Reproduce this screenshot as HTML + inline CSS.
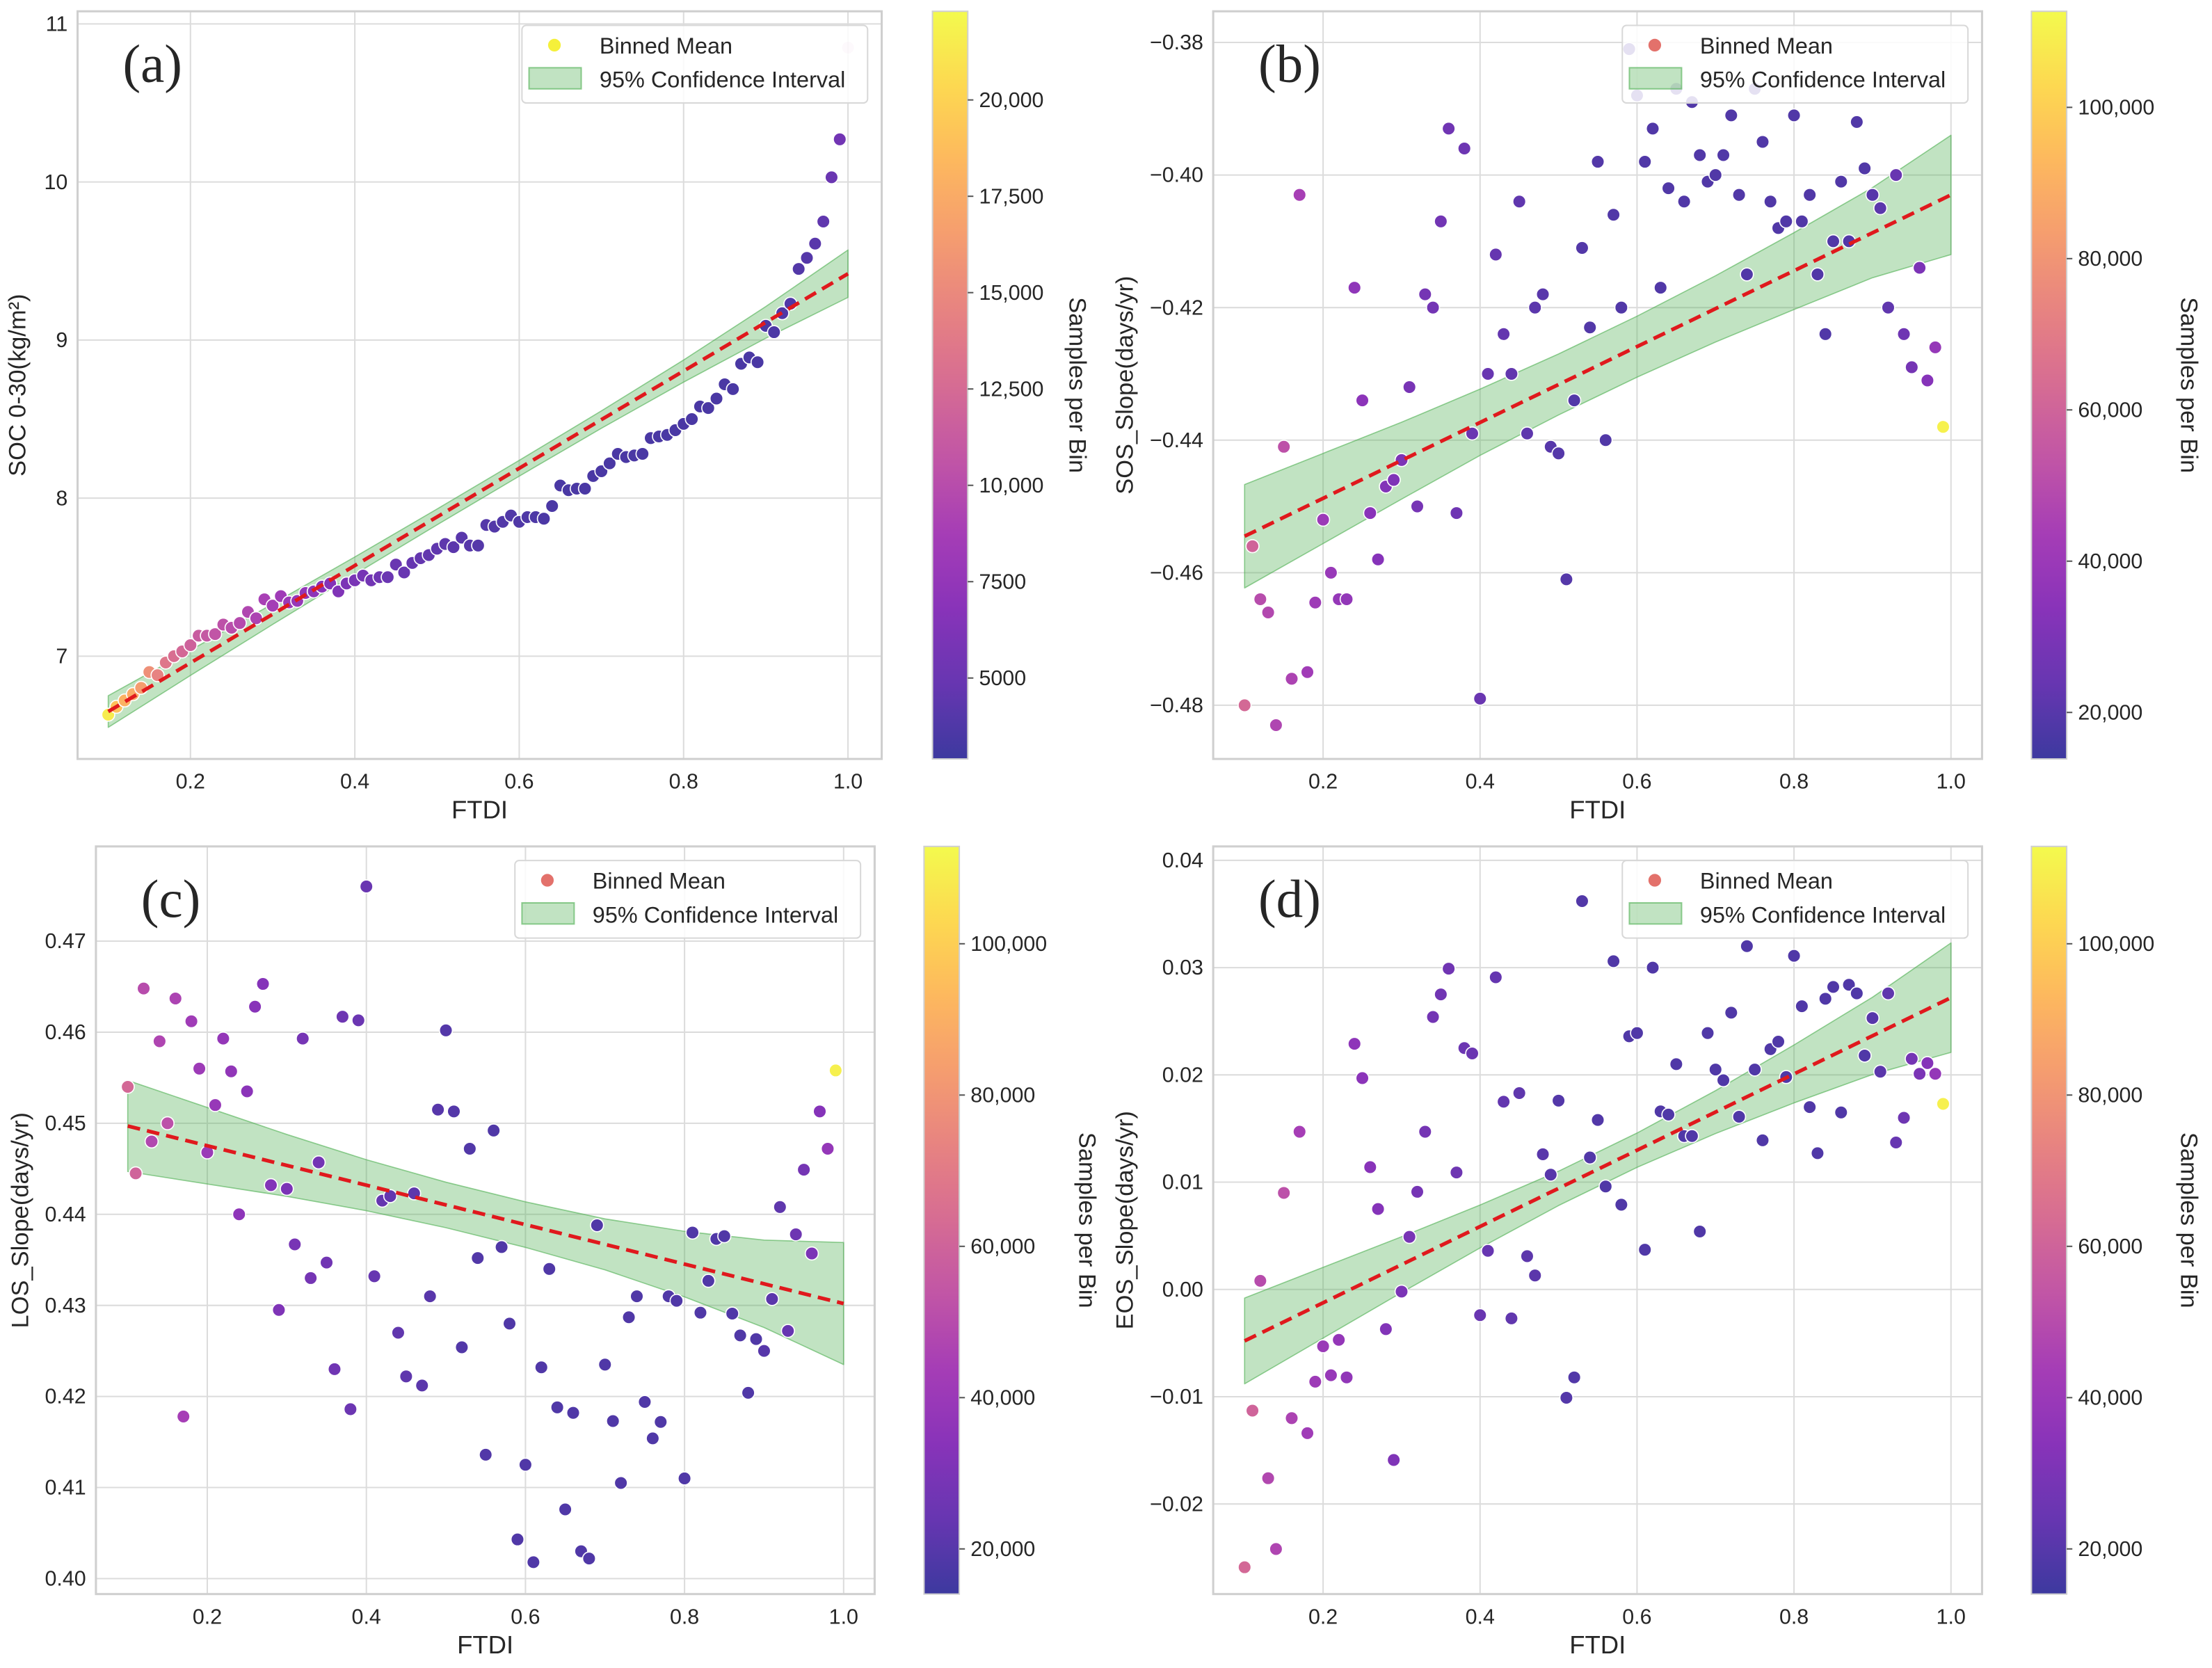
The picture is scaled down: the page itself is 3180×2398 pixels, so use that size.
<!DOCTYPE html>
<html><head><meta charset="utf-8"><style>
html,body{margin:0;padding:0;background:#fff;}
svg{display:block;}
text{font-family:"Liberation Sans",Arial,sans-serif;fill:#262626;}
</style></head>
<body>
<svg id="fig" xmlns="http://www.w3.org/2000/svg" width="3180" height="2398" viewBox="0 0 1568 1182.4"></svg>
<script>
// ---- shared bins (FTDI) ----
const BINS = [0.10,0.11,0.12,0.13,0.14,0.15,0.16,0.17,0.18,0.19,0.20,0.21,0.22,0.23,0.24,0.25,0.26,0.27,0.28,0.29,0.30,0.31,0.32,0.33,0.34,0.35,0.36,0.37,0.38,0.39,0.40,0.41,0.42,0.43,0.44,0.45,0.46,0.47,0.48,0.49,0.50,0.51,0.52,0.53,0.54,0.55,0.56,0.57,0.58,0.59,0.60,0.61,0.62,0.63,0.64,0.65,0.66,0.67,0.68,0.69,0.70,0.71,0.72,0.73,0.74,0.75,0.76,0.77,0.78,0.79,0.80,0.81,0.82,0.83,0.84,0.85,0.86,0.87,0.88,0.89,0.90,0.91,0.92,0.93,0.94,0.95,0.96,0.97,0.98,0.99];
const BINS_A = BINS.concat([1.00]);
// ---- panel (a) SOC ----
const socValues = [6.63,6.68,6.72,6.76,6.80,6.90,6.88,6.96,7.00,7.03,7.07,7.13,7.13,7.14,7.20,7.18,7.21,7.28,7.24,7.36,7.32,7.38,7.34,7.35,7.40,7.41,7.44,7.46,7.41,7.46,7.48,7.51,7.48,7.50,7.50,7.58,7.53,7.59,7.62,7.64,7.68,7.71,7.69,7.75,7.70,7.70,7.83,7.82,7.85,7.89,7.85,7.88,7.88,7.87,7.95,8.08,8.05,8.06,8.06,8.14,8.17,8.22,8.28,8.26,8.27,8.28,8.38,8.39,8.40,8.43,8.47,8.50,8.58,8.57,8.63,8.72,8.69,8.85,8.89,8.86,9.09,9.05,9.17,9.23,9.45,9.52,9.61,9.75,10.03,10.27,10.85];
const socCounts = [21500,19000,18000,17500,16500,15500,14500,13500,12800,12300,11800,11300,11000,10700,10400,10100,9800,9500,9200,8900,8600,8300,8000,7700,7400,7100,6800,6500,6300,6100,5900,5700,5500,5300,5100,5000,4900,4800,4700,4600,4500,4400,4300,4200,4100,4000,3950,3900,3850,3800,3750,3700,3650,3600,3550,3500,3500,3500,3500,3500,3500,3500,3500,3500,3500,3500,3500,3500,3500,3500,3500,3500,3500,3500,3500,3500,3500,3500,3500,3500,3500,3600,3700,3800,3900,4000,4200,4500,5000,5500,11000];
const socFit = [6.65, 9.42];
const ciX = [0.1,0.2,0.3,0.4,0.5,0.6,0.7,0.8,0.9,1.0];
const socCiLo = [6.55,6.878,7.201,7.518,7.831,8.139,8.442,8.734,9.012,9.27];
const socCiHi = [6.75,7.038,7.331,7.628,7.931,8.239,8.552,8.874,9.212,9.57];
// ---- panel (b) SOS ----
const sosValues = [-0.480,-0.456,-0.464,-0.466,-0.483,-0.441,-0.476,-0.403,-0.475,-0.4645,-0.452,-0.460,-0.464,-0.464,-0.417,-0.434,-0.451,-0.458,-0.447,-0.446,-0.443,-0.432,-0.450,-0.418,-0.420,-0.407,-0.393,-0.451,-0.396,-0.439,-0.479,-0.430,-0.412,-0.424,-0.430,-0.404,-0.439,-0.420,-0.418,-0.441,-0.442,-0.461,-0.434,-0.411,-0.423,-0.398,-0.440,-0.406,-0.420,-0.381,-0.388,-0.398,-0.393,-0.417,-0.402,-0.387,-0.404,-0.389,-0.397,-0.401,-0.400,-0.397,-0.391,-0.403,-0.415,-0.387,-0.395,-0.404,-0.408,-0.407,-0.391,-0.407,-0.403,-0.415,-0.424,-0.410,-0.401,-0.410,-0.392,-0.399,-0.403,-0.405,-0.420,-0.400,-0.424,-0.429,-0.414,-0.431,-0.426,-0.438];
const sosFit = [-0.4545, -0.403];
const sosCiLo = [-0.4623,-0.4556,-0.4489,-0.4423,-0.4362,-0.4305,-0.4252,-0.4203,-0.4155,-0.4120];
const sosCiHi = [-0.4467,-0.4420,-0.4373,-0.4323,-0.4270,-0.4213,-0.4152,-0.4087,-0.4019,-0.3940];
// ---- panel (c) LOS ----
const losValues = [0.454,0.4445,0.4648,0.448,0.459,0.450,0.4637,0.4178,0.4612,0.456,0.4468,0.452,0.4593,0.4557,0.440,0.4535,0.4628,0.4653,0.4432,0.4295,0.4428,0.4367,0.4593,0.433,0.4457,0.4347,0.423,0.4617,0.4186,0.4613,0.476,0.4332,0.4415,0.442,0.427,0.4222,0.4423,0.4212,0.431,0.4515,0.4602,0.4513,0.4254,0.4472,0.4352,0.4136,0.4492,0.4364,0.428,0.4043,0.4125,0.4018,0.4232,0.434,0.4188,0.4076,0.4182,0.403,0.4022,0.4388,0.4235,0.4173,0.4105,0.4287,0.431,0.4194,0.4154,0.4172,0.431,0.4305,0.411,0.438,0.4292,0.4327,0.4373,0.4376,0.4291,0.4267,0.4204,0.4263,0.425,0.4307,0.4408,0.4272,0.4378,0.4449,0.4357,0.4513,0.4472,0.4558];
const losFit = [0.4497, 0.4302];
const losCiLo = [0.4447,0.44333,0.44197,0.4404,0.43853,0.43637,0.4339,0.43093,0.42757,0.4235];
const losCiHi = [0.4547,0.45173,0.44877,0.4460,0.44353,0.44137,0.4395,0.43813,0.43717,0.4369];
// ---- panel (d) EOS ----
const eosValues = [-0.0259,-0.0113,0.0008,-0.0176,-0.0242,0.009,-0.012,0.0147,-0.0134,-0.0086,-0.0053,-0.008,-0.0047,-0.0082,0.0229,0.0197,0.0114,0.0075,-0.0037,-0.0159,-0.0002,0.0049,0.0091,0.0147,0.0254,0.0275,0.0299,0.0109,0.0225,0.022,-0.0024,0.0036,0.0291,0.0175,-0.0027,0.0183,0.0031,0.0013,0.0126,0.0107,0.0176,-0.0101,-0.0082,0.0362,0.0123,0.0158,0.0096,0.0306,0.0079,0.0236,0.0239,0.0037,0.030,0.0166,0.0163,0.021,0.0143,0.0143,0.0054,0.0239,0.0205,0.0195,0.0258,0.0161,0.032,0.0205,0.0139,0.0224,0.0231,0.0198,0.0311,0.0264,0.017,0.0127,0.0271,0.0282,0.0165,0.0284,0.0276,0.0218,0.0253,0.0203,0.0276,0.0137,0.016,0.0215,0.0201,0.0211,0.0201,0.0173];
const eosFit = [-0.0048, 0.0272];
const eosCiLo = [-0.0088,-0.00454,-0.00029,0.00387,0.00782,0.01138,0.01453,0.01739,0.02004,0.0221];
const eosCiHi = [-0.0008,0.00206,0.00491,0.00787,0.01102,0.01458,0.01853,0.02279,0.02724,0.0323];
// ---- shared counts for b/c/d ----
const phenoCounts = [62000,60000,50000,48000,47000,52000,46000,44000,42000,41000,40000,39000,38000,37000,36000,35000,34000,33000,32000,31000,30000,29000,28500,28000,27500,27000,26500,26000,25500,25000,24500,24000,23500,23000,22500,22000,21500,21000,20500,20000,19500,19500,19000,19000,19000,19000,18500,18500,18500,18500,18500,18500,18500,18500,18500,18500,18500,18500,18500,18500,18500,18500,18500,18500,18500,18500,18500,18500,18500,18500,18500,18500,18500,18500,18500,18500,18500,18500,18500,18500,20000,21000,22000,24000,26000,28000,30000,33000,38000,110000];
// ---- tick labels ----
const xTicks = [0.2,0.4,0.6,0.8,1.0];
const socTicks = [7,8,9,10,11];
const sosTicks = [-0.38,-0.40,-0.42,-0.44,-0.46,-0.48];
const losTicks = [0.40,0.41,0.42,0.43,0.44,0.45,0.46,0.47];
const eosTicks = [-0.02,-0.01,0.00,0.01,0.02,0.03,0.04];
const cbTicksA = [5000,7500,10000,12500,15000,17500,20000];
const cbTicksB = [20000,40000,60000,80000,100000];

const NS = "http://www.w3.org/2000/svg";
const svg = document.getElementById('fig');
function mk(tag, attrs, parent){const e=document.createElementNS(NS,tag);for(const k in attrs)e.setAttribute(k,attrs[k]);(parent||svg).appendChild(e);return e;}
const PL=[[0,[13,8,135]],[0.1,[65,4,157]],[0.2,[106,0,168]],[0.3,[143,13,164]],[0.4,[177,42,144]],[0.5,[204,71,120]],[0.6,[225,100,98]],[0.7,[242,132,75]],[0.8,[252,166,54]],[0.9,[252,206,37]],[1,[240,249,33]]];
function plasma(t){t=Math.max(0,Math.min(1,t));for(let i=0;i<PL.length-1;i++){if(t<=PL[i+1][0]){const f=(t-PL[i][0])/(PL[i+1][0]-PL[i][0]);const a=PL[i][1],b=PL[i+1][1];
const c=a.map((v,j)=>Math.round((v+(b[j]-v)*f)*0.8+255*0.2));return `rgb(${c[0]},${c[1]},${c[2]})`;}}return 'rgb(243,250,78)';}
function fmt(v,d){return v<0?'\u2212'+Math.abs(v).toFixed(d):v.toFixed(d);}
function comma(v){return v>=10000?v.toLocaleString('en-US'):String(v);}

function panel(o){
  const g=mk('g',{});
  
  
  const X=v=>o.L+(v-o.xd[0])/(o.xd[1]-o.xd[0])*(o.R-o.L);
  const Y=v=>o.B-(v-o.yd[0])/(o.yd[1]-o.yd[0])*(o.B-o.T);
  const clip='clip_'+o.name; const cp=mk('clipPath',{id:clip},g); mk('rect',{x:o.L,y:o.T,width:o.R-o.L,height:o.B-o.T},cp);
  xTicks.forEach(t=>{const l=mk('line',{x1:X(t),x2:X(t),y1:o.T,y2:o.B,stroke:'#dcdcdc','stroke-width':1},g);
    const tx=mk('text',{x:X(t),y:o.B+21,'text-anchor':'middle','font-size':15},g);tx.textContent=t.toFixed(1);});
  o.yt.forEach(t=>{const l=mk('line',{x1:o.L,x2:o.R,y1:Y(t),y2:Y(t),stroke:'#dcdcdc','stroke-width':1},g);
    const tx=mk('text',{x:o.L-7,y:Y(t)+5,'text-anchor':'end','font-size':15},g);tx.textContent=o.yf(t);});
  const frame=mk('rect',{x:o.L,y:o.T,width:o.R-o.L,height:o.B-o.T,fill:'none',stroke:'#cfcfcf','stroke-width':1.5},g);
  
  const inner=mk('g',{'clip-path':`url(#${clip})`},g);
  let d='';ciX.forEach((x,i)=>{d+=(i?'L':'M')+X(x)+','+Y(o.ciHi[i]);});
  for(let i=ciX.length-1;i>=0;i--)d+='L'+X(ciX[i])+','+Y(o.ciLo[i]);
  const band=mk('path',{d:d+'Z',fill:'rgba(76,175,80,0.35)',stroke:'rgba(76,175,80,0.6)','stroke-width':0.8,'stroke-linejoin':'round'},inner);
  
  o.xs.forEach((x,i)=>{const c=o.counts[i];const p=mk('circle',{cx:X(x),cy:Y(o.ys[i]),r:4.6,fill:plasma((c-o.cd[0])/(o.cd[1]-o.cd[0])),stroke:'#fff','stroke-width':0.8},inner);
    if(o.fadeLast&&i===o.xs.length-1)p.setAttribute('opacity','0.25');
    });
  const fl=mk('line',{x1:X(0.1),y1:Y(o.fit[0]),x2:X(1.0),y2:Y(o.fit[1]),stroke:'#e0191d','stroke-width':2.6,'stroke-dasharray':'9,5'},inner);
  
  const xl=mk('text',{x:(o.L+o.R)/2,y:o.B+42,'text-anchor':'middle','font-size':18},g);xl.textContent='FTDI';
  const yl=mk('text',{x:0,y:0,'text-anchor':'middle','font-size':17,transform:`translate(${o.ylx},${(o.T+o.B)/2}) rotate(-90)`},g);yl.textContent=o.ylab;
  const pl=mk('text',{x:o.L+32,y:o.T+50,'font-size':38,style:'font-family:"Liberation Serif",serif'},g);pl.textContent=o.tag;
  const lg=mk('g',{},g);
  const lx=o.R-255,ly=o.T+10;
  mk('rect',{x:lx,y:ly,width:245,height:55,rx:3,fill:'rgba(255,255,255,0.85)',stroke:'#d8d8d8'},lg);
  const lm=mk('circle',{cx:lx+23,cy:ly+14,r:4.5,fill:o.legColor},lg);
  const t1=mk('text',{x:lx+55,y:ly+20,'font-size':16},lg);t1.textContent='Binned Mean';
  mk('rect',{x:lx+5,y:ly+30,width:37,height:15,fill:'rgba(76,175,80,0.35)',stroke:'rgba(76,175,80,0.6)'},lg);
  const t2=mk('text',{x:lx+55,y:ly+44,'font-size':16},lg);t2.textContent='95% Confidence Interval';
  const cb=mk('g',{},g);
  const gid='grad_'+o.name;const lgd=mk('linearGradient',{id:gid,x1:0,y1:1,x2:0,y2:0},cb);
  for(let i=0;i<=20;i++)mk('stop',{offset:i/20,'stop-color':plasma(i/20)},lgd);
  mk('rect',{x:o.cbx,y:o.T,width:25,height:o.B-o.T,fill:`url(#${gid})`,stroke:'#d0d0d0','stroke-width':1},cb);
  const CY=v=>o.B-(v-o.cd[0])/(o.cd[1]-o.cd[0])*(o.B-o.T);
  o.cbt.forEach(t=>{mk('line',{x1:o.cbx+25,x2:o.cbx+29,y1:CY(t),y2:CY(t),stroke:'#555'},cb);
    const tx=mk('text',{x:o.cbx+33,y:CY(t)+5,'font-size':15},cb);tx.textContent=comma(t);});
  const cl=mk('text',{x:0,y:0,'text-anchor':'middle','font-size':17,transform:`translate(${o.cblx},${(o.T+o.B)/2}) rotate(90)`},cb);cl.textContent='Samples per Bin';
}
panel({name:'panel-a-soc',tag:'(a)',L:55,R:625,T:8,B:538,xd:[0.0627,1.041],yd:[6.35,11.08],yt:socTicks,yf:v=>String(v),xs:BINS_A,ys:socValues,counts:socCounts,cd:[2900,22300],fit:socFit,ciLo:socCiLo,ciHi:socCiHi,ylab:'SOC 0-30(kg/m²)',ylx:18,legColor:'#f5f03a',cbx:661,cbt:cbTicksA,cblx:758,fadeLast:true});
panel({name:'panel-b-sos',tag:'(b)',L:860,R:1405,T:8,B:538,xd:[0.06,1.0396],yd:[-0.4881,-0.3753],yt:sosTicks,yf:v=>fmt(v,2),xs:BINS,ys:sosValues,counts:phenoCounts,cd:[13850,112700],fit:sosFit,ciLo:sosCiLo,ciHi:sosCiHi,ylab:'SOS_Slope(days/yr)',ylx:803,legColor:'#e3716b',cbx:1440,cbt:cbTicksB,cblx:1546});
panel({name:'panel-c-los',tag:'(c)',L:68,R:620,T:600,B:1130,xd:[0.06,1.039],yd:[0.3983,0.4804],yt:losTicks,yf:v=>v.toFixed(2),xs:BINS,ys:losValues,counts:phenoCounts,cd:[14030,112870],fit:losFit,ciLo:losCiLo,ciHi:losCiHi,ylab:'LOS_Slope(days/yr)',ylx:20,legColor:'#e3716b',cbx:655,cbt:cbTicksB,cblx:765});
panel({name:'panel-d-eos',tag:'(d)',L:860,R:1405,T:600,B:1130,xd:[0.06,1.0396],yd:[-0.0284,0.0413],yt:eosTicks,yf:v=>fmt(v,2),xs:BINS,ys:eosValues,counts:phenoCounts,cd:[14030,112870],fit:eosFit,ciLo:eosCiLo,ciHi:eosCiHi,ylab:'EOS_Slope(days/yr)',ylx:803,legColor:'#e3716b',cbx:1440,cbt:cbTicksB,cblx:1546});
</script>
</body></html>
